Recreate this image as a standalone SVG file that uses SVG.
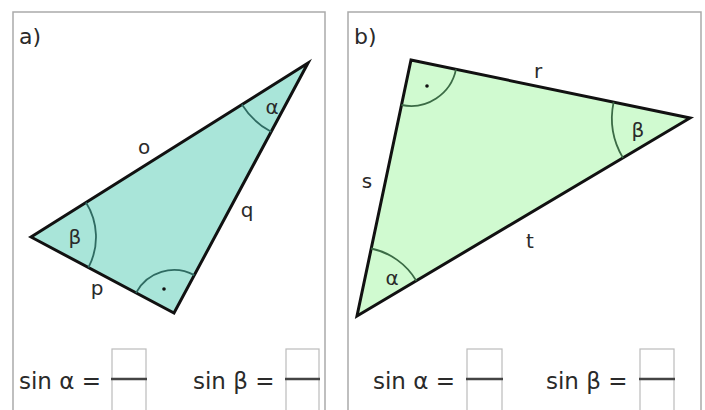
<svg xmlns="http://www.w3.org/2000/svg" width="705" height="410" viewBox="0 0 705 410">
<style>
.panel{fill:#fff;stroke:#aaa;stroke-width:1.5}
.tri{stroke:#111;stroke-width:3;stroke-linejoin:miter}
.arcA{fill:none;stroke:#2f6b62;stroke-width:1.8}
.arcB{fill:none;stroke:#3b6b45;stroke-width:1.8}
.lbl{font-family:"DejaVu Sans",Verdana,sans-serif;font-size:20px;fill:#2a2a2a;text-anchor:middle}
.hdr{font-family:"DejaVu Sans",Verdana,sans-serif;font-size:22px;fill:#2a2a2a}
.eq{font-family:"DejaVu Sans",Verdana,sans-serif;font-size:23px;fill:#2a2a2a}
.box{fill:#fff;stroke:#bbb;stroke-width:1.2}
.bar{stroke:#444;stroke-width:2.5}
</style>
<rect width="705" height="410" fill="#fff"/>
<g id="panel-a">
<rect class="panel" x="13" y="12" width="312" height="410"/>
<text class="hdr" x="19" y="44">a)</text>
<polygon class="tri" fill="#a9e5d9" points="31,237 308,63 174,313"/>
<path class="arcA" d="M86,202.4 A65,65 0 0 1 88.4,267.5"/>
<path class="arcA" d="M241.9,104.5 A78,78 0 0 0 271.1,131.8"/>
<path class="arcA" d="M136,292.8 A43,43 0 0 1 194.3,275.1"/>
<circle cx="164" cy="289" r="1.8" fill="#111"/>
<text class="lbl" x="75" y="244">β</text>
<text class="lbl" x="272" y="114">α</text>
<text class="lbl" x="144" y="154">o</text>
<text class="lbl" x="247" y="217">q</text>
<text class="lbl" x="97" y="295">p</text>
<text class="eq" x="19" y="389">sin α =</text>
<rect class="box" x="112" y="349" width="34" height="30"/>
<rect class="box" x="112" y="379" width="34" height="40"/>
<line class="bar" x1="111" y1="379" x2="147" y2="379"/>
<text class="eq" x="193" y="389">sin β =</text>
<rect class="box" x="286" y="349" width="33" height="30"/>
<rect class="box" x="286" y="379" width="33" height="40"/>
<line class="bar" x1="285" y1="379" x2="320" y2="379"/>
</g>
<g id="panel-b">
<rect class="panel" x="348" y="12" width="353" height="410"/>
<text class="hdr" x="354" y="44">b)</text>
<polygon class="tri" fill="#d0fad0" points="411,60 690,118 357,316"/>
<path class="arcB" d="M456,69.4 A46,46 0 0 1 401.5,105"/>
<path class="arcB" d="M613.6,102.1 A78,78 0 0 0 623,157.9"/>
<path class="arcB" d="M371.2,248.5 A69,69 0 0 1 416.3,280.7"/>
<circle cx="427" cy="86" r="1.8" fill="#111"/>
<text class="lbl" x="538" y="78">r</text>
<text class="lbl" x="638" y="137">β</text>
<text class="lbl" x="367" y="188">s</text>
<text class="lbl" x="530" y="248">t</text>
<text class="lbl" x="392" y="285">α</text>
<text class="eq" x="373" y="389">sin α =</text>
<rect class="box" x="467" y="349" width="35" height="30"/>
<rect class="box" x="467" y="379" width="35" height="40"/>
<line class="bar" x1="466" y1="379" x2="503" y2="379"/>
<text class="eq" x="546" y="389">sin β =</text>
<rect class="box" x="640" y="349" width="34" height="30"/>
<rect class="box" x="640" y="379" width="34" height="40"/>
<line class="bar" x1="639" y1="379" x2="675" y2="379"/>
</g>
</svg>
